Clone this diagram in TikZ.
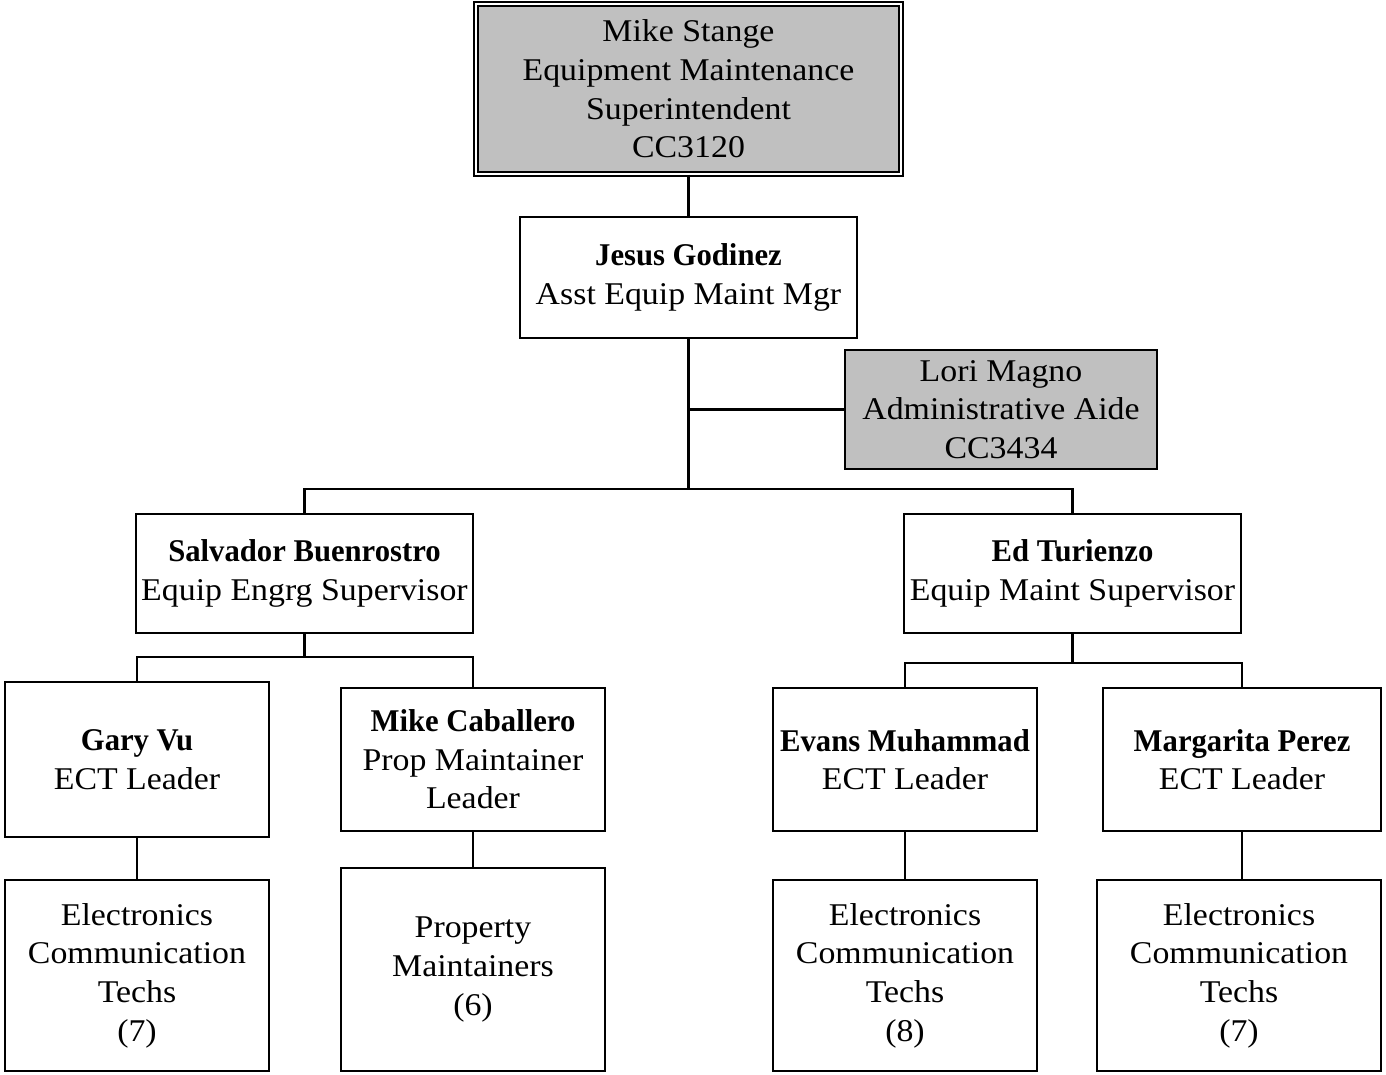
\documentclass[tikz,border=0pt]{standalone}
\usepackage{fontspec}
\setmainfont{Liberation Serif}[FakeStretch=1.07, BoldFeatures={FakeStretch=0.97}]
\usepackage{xcolor}
\usepackage{tikz}
\usetikzlibrary{calc, positioning}
\definecolor{boxgray}{RGB}{192,192,192}

\begin{document}
\begin{tikzpicture}[unit/.style={draw, line width=1.2pt, align=center, inner sep=0pt, font=\fontsize{18}{22}\selectfont}, staff/.style={unit, fill=boxgray}, head/.style={staff, double, line width=1pt, double distance=1.5pt}, link/.style={line width=1.2pt}]
      \useasboundingbox (0,0) rectangle (27.72,-21.48);
      \node[head, minimum width=8.50cm, minimum height=3.40cm] (stange) at (13.77,-1.78) {Mike Stange\\Equipment Maintenance\\Superintendent\\CC3120};
      \node[unit, minimum width=6.74cm, minimum height=2.42cm] (godinez) at (13.77,-5.55) {\textbf{Jesus Godinez}\\Asst Equip Maint Mgr};
      \node[staff, minimum width=6.24cm, minimum height=2.38cm] (magno) at (20.02,-8.19) {Lori Magno\\Administrative Aide\\CC3434};
      \node[unit, minimum width=6.74cm, minimum height=2.38cm] (buenrostro) at (6.09,-11.47) {\textbf{Salvador Buenrostro}\\Equip Engrg Supervisor};
      \node[unit, minimum width=6.74cm, minimum height=2.38cm] (turienzo) at (21.45,-11.47) {\textbf{Ed Turienzo}\\Equip Maint Supervisor};
      \node[unit, minimum width=5.28cm, minimum height=3.10cm] (vu) at (2.74,-15.19) {\textbf{Gary Vu}\\ECT Leader};
      \node[unit, minimum width=5.28cm, minimum height=2.86cm] (caballero) at (9.46,-15.19) {\textbf{Mike Caballero}\\Prop Maintainer\\Leader};
      \node[unit, minimum width=5.28cm, minimum height=2.86cm] (muhammad) at (18.10,-15.19) {\textbf{Evans Muhammad}\\ECT Leader};
      \node[unit, minimum width=5.56cm, minimum height=2.86cm] (perez) at (24.84,-15.19) {\textbf{Margarita Perez}\\ECT Leader};
      \node[unit, minimum width=5.28cm, minimum height=3.82cm] (techs_vu) at (2.74,-19.51) {Electronics\\Communication\\Techs\\(7)};
      \node[unit, minimum width=5.28cm, minimum height=4.06cm] (props) at (9.46,-19.39) {Property\\Maintainers\\(6)};
      \node[unit, minimum width=5.28cm, minimum height=3.82cm] (techs_muhammad) at (18.10,-19.51) {Electronics\\Communication\\Techs\\(8)};
      \node[unit, minimum width=5.68cm, minimum height=3.82cm] (techs_perez) at (24.78,-19.51) {Electronics\\Communication\\Techs\\(7)};
      % connectors
      \coordinate (split_godinez) at (13.77,-9.78);
      \coordinate (split_buenrostro) at (6.09,-13.14);
      \coordinate (split_turienzo) at (21.45,-13.26);
      \draw[link] (stange) -- (godinez);
      \draw[link] (godinez) -- (split_godinez);
      \draw[link] (split_godinez |- magno) -- (magno);
      \draw[link] (buenrostro.north) |- (split_godinez) -| (turienzo.north);
      \draw[link] (buenrostro) -- (split_buenrostro);
      \draw[link] (vu.north) |- (split_buenrostro) -| (caballero.north);
      \draw[link] (turienzo) -- (split_turienzo);
      \draw[link] (muhammad.north) |- (split_turienzo) -| (perez.north);
      \draw[link] (vu) -- (techs_vu);
      \draw[link] (caballero) -- (props);
      \draw[link] (muhammad) -- (techs_muhammad);
      \draw[link] (perez) -- (perez |- techs_perez.north);
    \end{tikzpicture}
\end{document}
